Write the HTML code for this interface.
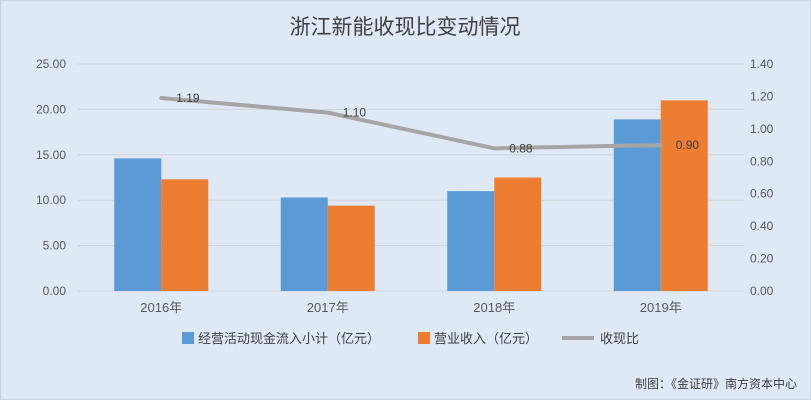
<!DOCTYPE html>
<html><head><meta charset="utf-8"><style>
body{margin:0;background:#fff}
svg text{font-family:"Liberation Sans","Noto Sans CJK SC",sans-serif}
</style></head><body>
<svg id="c" width="811" height="400" xmlns="http://www.w3.org/2000/svg">
<rect x="0.5" y="0.5" width="810" height="399" fill="#dfe9f5" stroke="#c9d3de"/>
<text x="405" y="34" text-anchor="middle" font-size="21" fill="#404040">浙江新能收现比变动情况</text>
<g id="grid"></g><g id="bars"></g><g id="line"></g><g id="axes"></g>
<g>
<rect x="182" y="332" width="12" height="12" fill="#5b9bd5"/>
<text x="198" y="343" font-size="13" fill="#404040">经营活动现金流入小计（亿元）</text>
<rect x="418" y="332" width="12" height="12" fill="#ed7d31"/>
<text x="434" y="343" font-size="13" fill="#404040">营业收入（亿元）</text>
<line x1="562" y1="338" x2="594" y2="338" stroke="#a5a5a5" stroke-width="4"/>
<text x="600" y="343" font-size="13" fill="#404040">收现比</text>
</g>
<text x="797" y="388" text-anchor="end" font-size="12" fill="#404040">制图：《金证研》南方资本中心</text>
</svg>
<script>
const categories=["2016年","2017年","2018年","2019年"];
const cashflow=[14.6,10.3,11.0,18.9];
const revenue=[12.3,9.4,12.5,21.0];
const ratio=[1.19,1.10,0.88,0.90];
const leftTicks=["0.00","5.00","10.00","15.00","20.00","25.00"];
const rightTicks=["0.00","0.20","0.40","0.60","0.80","1.00","1.20","1.40"];
const NS="http://www.w3.org/2000/svg";
const L=78,R=744,T=64,B=291;
const yL=v=>B-(v/25)*(B-T);
const yR=v=>B-(v/1.4)*(B-T);
const step=(R-L)/categories.length;
const cx=i=>L+step*(i+0.5);
function mk(p,t,a){const e=document.createElementNS(NS,t);for(const k in a)e.setAttribute(k,a[k]);document.getElementById(p).appendChild(e);return e;}
leftTicks.forEach((t,i)=>{const v=parseFloat(t);const y=yL(v);
 const g=mk("grid","line",{x1:L,x2:R,y1:y,y2:y,stroke:"#d0d4d9","stroke-width":1});
 
 
 const tx=mk("axes","text",{x:66,y:y+4,"text-anchor":"end","font-size":12,fill:"#595959"});tx.textContent=t;
 
 
});
rightTicks.forEach(t=>{const y=yR(parseFloat(t));
 const tx=mk("axes","text",{x:750,y:y+4,"font-size":12,fill:"#595959"});tx.textContent=t;
 
 
});
const bw=47;
categories.forEach((c,i)=>{
 const b1=mk("bars","rect",{x:cx(i)-bw,y:yL(cashflow[i]),width:bw,height:B-yL(cashflow[i]),fill:"#5b9bd5"});
 
 
 const b2=mk("bars","rect",{x:cx(i),y:yL(revenue[i]),width:bw,height:B-yL(revenue[i]),fill:"#ed7d31"});
 
 
 const tx=mk("axes","text",{x:cx(i),y:312,"text-anchor":"middle","font-size":13,fill:"#595959"});tx.textContent=c;
 
 
});
const pts=ratio.map((v,i)=>cx(i)+","+yR(v)).join(" ");
const pl=mk("line","polyline",{points:pts,fill:"none",stroke:"#a5a5a5","stroke-width":4,"stroke-linejoin":"round","stroke-linecap":"round"});


ratio.forEach((v,i)=>{
 const tx=mk("line","text",{x:cx(i)+15,y:yR(v)+4,"font-size":12,fill:"#404040"});tx.textContent=v.toFixed(2);
 
 
});
</script>
</body></html>
